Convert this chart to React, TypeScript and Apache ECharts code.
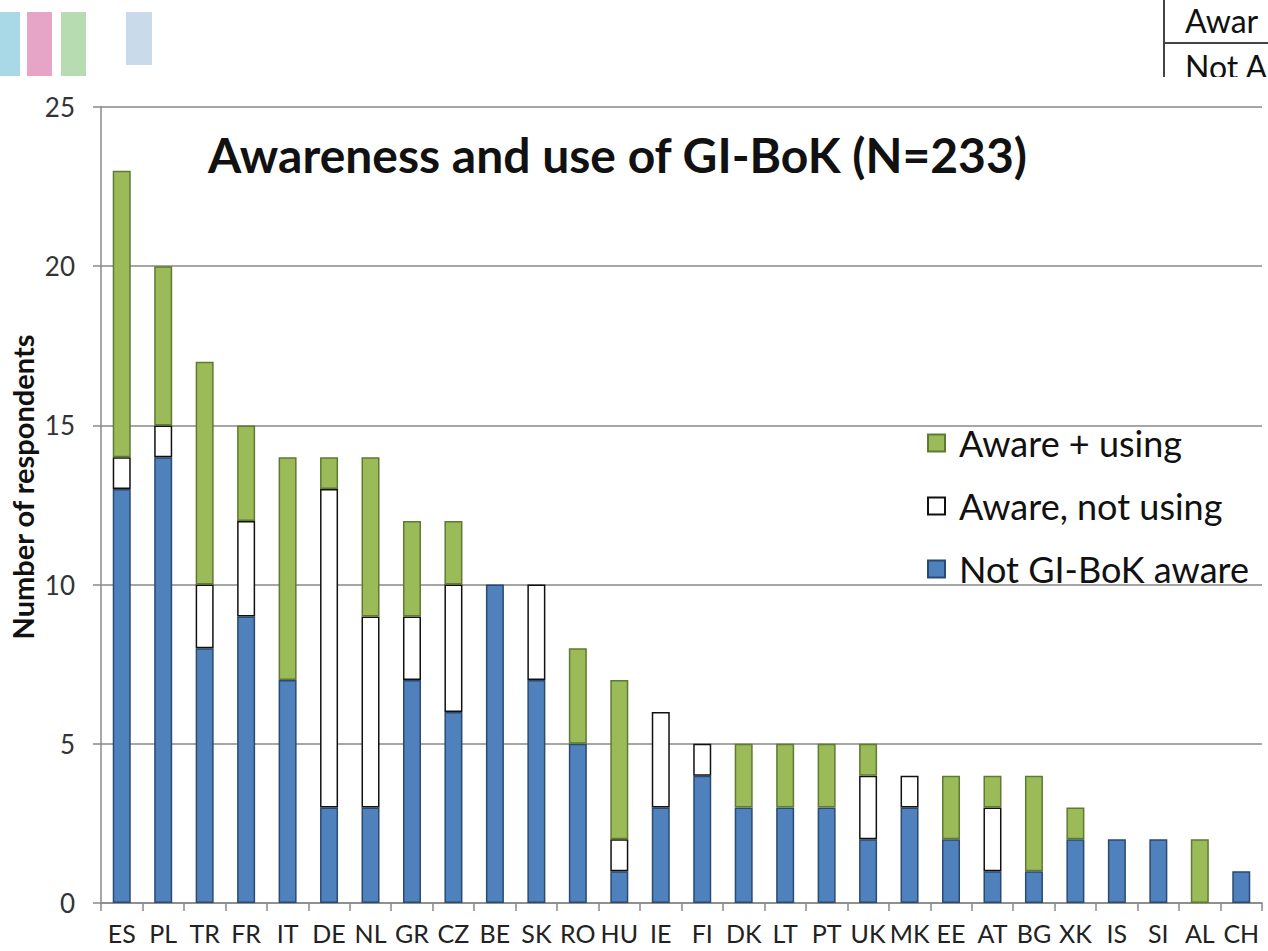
import React, { useEffect, useRef } from "react";
import * as echarts from "echarts";

const categories = ["ES","PL","TR","FR","IT","DE","NL","GR","CZ","BE","SK","RO","HU","IE","FI","DK","LT","PT","UK","MK","EE","AT","BG","XK","IS","SI","AL","CH"];
const notAware = [13,14,8,9,7,3,3,7,6,10,7,5,1,3,4,3,3,3,2,3,2,1,1,2,2,2,0,1];
const awareNotUsing = [1,1,2,3,0,10,6,2,4,0,3,0,1,3,1,0,0,0,2,1,0,2,0,0,0,0,0,0];
const awareUsing = [9,5,7,3,7,1,5,3,2,0,0,3,5,0,0,2,2,2,1,0,2,1,3,1,0,0,2,0];
const seriesNames = ["Aware + using", "Aware, not using", "Not GI-BoK aware"];
const titleText = "Awareness and use of GI-BoK (N=233)";
const yName = "Number of respondents";

const FONT = "Lato, 'Open Sans', sans-serif";
const nz = (a: number[]) => a.map((v) => (v === 0 ? null : v));

export default function App() {
  const ref = useRef<HTMLDivElement>(null);
  useEffect(() => {
    document.body.style.margin = "0";
    const chart = echarts.init(ref.current!, null, { renderer: "svg" });
    chart.setOption({
      animation: false,
      backgroundColor: "#ffffff",
      grid: { left: 101, right: 6, top: 107, bottom: 48, containLabel: false },
      legend: {
        orient: "vertical",
        left: 922,
        top: 420,
        itemWidth: 17,
        itemHeight: 17,
        itemGap: 27,
        icon: "rect",
        data: seriesNames,
        textStyle: { fontFamily: FONT, fontSize: 36, color: "#111", padding: [0, 0, 0, 9] },
      },
      xAxis: {
        type: "category",
        data: categories,
        axisLine: { lineStyle: { color: "#888", width: 1.5 } },
        axisTick: { show: true, length: 8, lineStyle: { color: "#888", width: 1.5 } },
        axisLabel: { fontFamily: FONT, fontSize: 25, color: "#222", margin: 17, interval: 0 },
      },
      yAxis: {
        type: "value",
        min: 0,
        max: 25,
        interval: 5,
        axisLine: { show: true, lineStyle: { color: "#888", width: 1.5 } },
        axisTick: { show: true, length: 8, inside: false, lineStyle: { color: "#888", width: 1.5 } },
        axisLabel: { fontFamily: FONT, fontSize: 26, color: "#333", margin: 26 },
        splitLine: { lineStyle: { color: "#888", width: 1.5 } },
      },
      series: [
        {
          name: seriesNames[2],
          type: "bar",
          stack: "s",
          barWidth: 18,
          data: nz(notAware),
          itemStyle: { color: "#4f81bd", borderColor: "#2b4a72", borderWidth: 1.5 },
        },
        {
          name: seriesNames[1],
          type: "bar",
          stack: "s",
          barWidth: 18,
          data: nz(awareNotUsing),
          itemStyle: { color: "#ffffff", borderColor: "#111111", borderWidth: 1.5 },
        },
        {
          name: seriesNames[0],
          type: "bar",
          stack: "s",
          barWidth: 18,
          data: nz(awareUsing),
          itemStyle: { color: "#9bbb59", borderColor: "#5f7a32", borderWidth: 1.5 },
        },
      ],
      graphic: [
        { type: "rect", shape: { x: 0, y: 12, width: 20, height: 64 }, style: { fill: "#a9d9e6" } },
        { type: "rect", shape: { x: 27, y: 12, width: 25, height: 64 }, style: { fill: "#e6a5c6" } },
        { type: "rect", shape: { x: 61, y: 12, width: 25, height: 64 }, style: { fill: "#b8dcb2" } },
        { type: "rect", shape: { x: 126, y: 12, width: 26, height: 53 }, style: { fill: "#c9dbeb" } },
        { type: "text", left: 1185, top: 4, style: { text: "Awar", font: `32px ${FONT}`, fill: "#111" } },
        { type: "text", left: 1185, top: 50, style: { text: "Not A", font: `32px ${FONT}`, fill: "#111" } },
        { type: "rect", z: 100, shape: { x: 1150, y: 77, width: 118, height: 25 }, style: { fill: "#ffffff" } },
        { type: "line", z: 101, shape: { x1: 1164, y1: 0, x2: 1164, y2: 77 }, style: { stroke: "#444", lineWidth: 2 } },
        { type: "line", z: 101, shape: { x1: 1164, y1: 43, x2: 1268, y2: 43 }, style: { stroke: "#444", lineWidth: 2 } },
        {
          type: "text",
          left: 208,
          top: 130,
          style: { text: titleText, font: `bold 48px ${FONT}`, fill: "#111" },
        },
        {
          type: "text",
          x: 22,
          y: 487,
          rotation: Math.PI / 2,
          style: {
            text: yName,
            font: `bold 29px ${FONT}`,
            fill: "#111",
            align: "center",
            verticalAlign: "middle",
          },
        },
      ],
    });
    return () => chart.dispose();
  }, []);
  return <div ref={ref} style={{ width: 1268, height: 951 }} />;
}
